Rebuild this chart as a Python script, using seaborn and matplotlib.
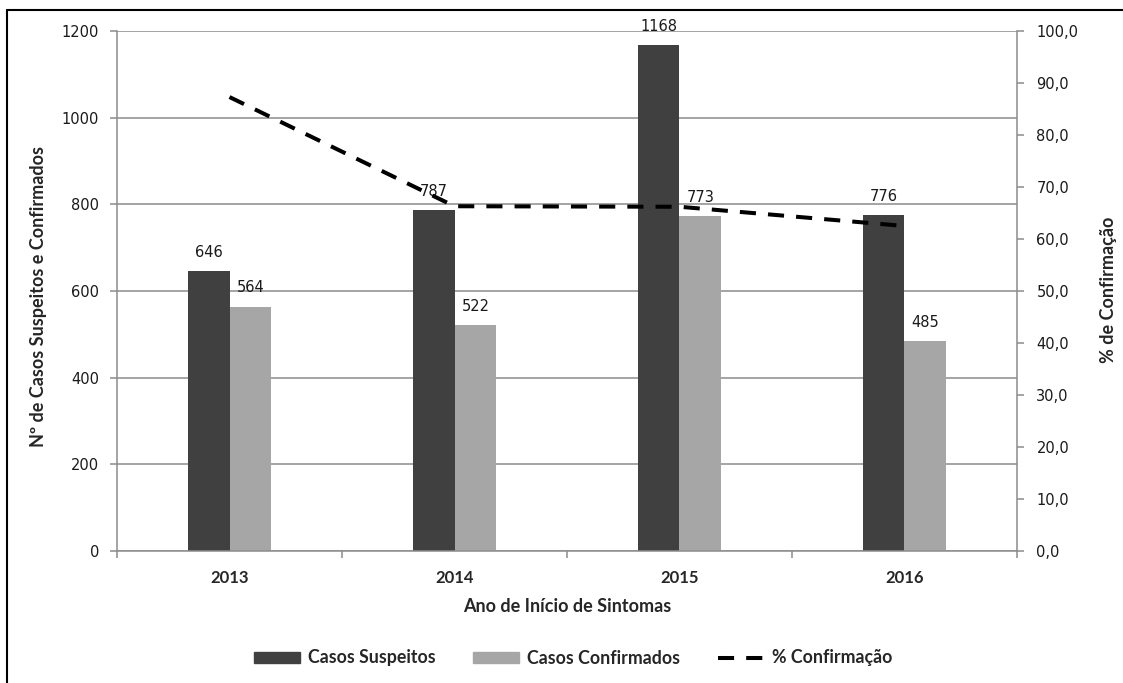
import pandas as pd
import matplotlib.pyplot as plt
import seaborn as sns
from matplotlib.patches import Patch
from matplotlib.lines import Line2D
from matplotlib.ticker import FuncFormatter

sns.set_style("white")
plt.rcParams['font.family'] = ['DejaVu Sans']

# data
anos = ['2013', '2014', '2015', '2016']
suspeitos = [646, 787, 1168, 776]
confirmados = [564, 522, 773, 485]
pct_confirmacao = [87.3, 66.3, 66.2, 62.5]

df = pd.DataFrame({
    'Ano': anos * 2,
    'Casos': suspeitos + confirmados,
    'Tipo': ['Casos Suspeitos'] * 4 + ['Casos Confirmados'] * 4,
})
cores = {'Casos Suspeitos': '#404040', 'Casos Confirmados': '#a6a6a6'}
grid_col = '#8c8c8c'
bold_font = dict(family='Lato', weight='bold')

fig = plt.figure(figsize=(11.23, 6.83), dpi=100)
ax = fig.add_axes([0.1042, 0.1933, 0.8014, 0.7613])

sns.barplot(data=df, x='Ano', y='Casos', hue='Tipo', palette=cores, width=0.373,
            dodge=True, gap=0, saturation=1, legend=False, ax=ax, linewidth=0)

for c in ax.containers:
    ax.bar_label(c, padding=8, fontsize=10.5, color='#1a1a1a')

ax.set_xlim(-0.5, 3.5)
ax.set_ylim(0, 1200)
ax.set_yticks(range(0, 1201, 200))
ax.yaxis.grid(True, color=grid_col, linewidth=1.1)
ax.set_axisbelow(True)
for s in ['left', 'bottom']:
    ax.spines[s].set_color(grid_col)
    ax.spines[s].set_linewidth(1.1)
ax.spines['top'].set_visible(False)
ax.spines['right'].set_visible(False)

ax.tick_params(axis='y', which='major', direction='out', length=5, width=1.1,
               color=grid_col, pad=8, labelsize=10.5, left=True, labelcolor='#1a1a1a')
ax.set_xticks(range(4))
ax.set_xticklabels(anos, fontdict=dict(bold_font, size=12))
ax.tick_params(axis='x', which='major', length=0, pad=14)
ax.set_xticks([-0.5, 0.5, 1.5, 2.5, 3.5], minor=True)
ax.tick_params(axis='x', which='minor', direction='out', length=5, width=1.1,
               color=grid_col, bottom=True)

ax.set_xlabel('Ano de Início de Sintomas', fontsize=13, **bold_font)
ax.xaxis.set_label_coords(0.5, -0.09)
ax.set_ylabel('Nº de Casos Suspeitos e Confirmados', fontsize=13, **bold_font)
ax.yaxis.set_label_coords(-0.078, 0.49)

# secondary axis: percentage
ax2 = ax.twinx()
sns.lineplot(x=list(range(4)), y=pct_confirmacao, ax=ax2, color='black',
             linewidth=2.9, linestyle=(0, (4, 3)))
ax2.set_ylim(0, 100)
ax2.set_yticks(range(0, 101, 10))
ax2.yaxis.set_major_formatter(FuncFormatter(lambda v, p: f'{v:.1f}'.replace('.', ',')))
ax2.grid(False)
for s in ['left', 'top', 'bottom']:
    ax2.spines[s].set_visible(False)
ax2.spines['right'].set_color(grid_col)
ax2.spines['right'].set_linewidth(1.1)
ax2.tick_params(axis='y', direction='out', length=5, width=1.1, color=grid_col,
                pad=9, labelsize=10.5, right=True, labelcolor='#1a1a1a')
ax2.set_ylabel('% de Confirmação', fontsize=13, **bold_font)
ax2.yaxis.set_label_coords(1.092, 0.502)

handles = [Patch(color=cores['Casos Suspeitos'], label='Casos Suspeitos'),
           Patch(color=cores['Casos Confirmados'], label='Casos Confirmados'),
           Line2D([], [], color='black', linewidth=2.9, linestyle=(0, (4, 3)),
                  label='% Confirmação')]
fig.legend(handles=handles, loc='center', bbox_to_anchor=(573 / 1123, 1 - 658 / 683),
           ncol=3, frameon=False, handlelength=2.6, handleheight=0.6,
           handletextpad=0.45, columnspacing=2.1,
           prop=dict(family='Lato', weight='bold', size=12.8))

# outer chart frame (left and top edges visible in the reference)
fig.add_artist(Line2D([7 / 1123, 7 / 1123], [0, 1 - 10 / 683], color='black', linewidth=1.5))
fig.add_artist(Line2D([7 / 1123, 1], [1 - 10 / 683, 1 - 10 / 683], color='black', linewidth=1.5))

fig.savefig('out.png', dpi=100)
plt.close(fig)
